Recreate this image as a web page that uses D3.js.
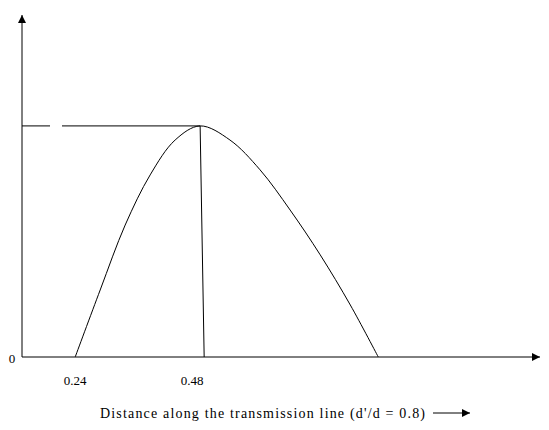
<!DOCTYPE html><html><head><script src="https://d3js.org/d3.v7.min.js"></script>
<style>body{margin:0;background:#fff}</style></head><body><svg id="c" width="549" height="430"></svg>
<script>
const xs=[0.24,0.2865,0.333,0.3795,0.426,0.4725,0.528,0.584,0.640,0.696,0.752,0.804];
const ys=[0,0.29,0.571,0.788,0.939,1,0.939,0.81,0.636,0.442,0.225,0];
const tickVals=[0.24,0.48];
const tickLabels=["0.24","0.48"];
const peak=[0.4725,1], drop=[0.48,0];
const svg=d3.select("#c");
const x=d3.scaleLinear().domain([0.141,1.105]).range([22,540]);
const y=d3.scaleLinear().domain([0,1.48]).range([357,15]);
const f="Liberation Serif";
svg.append("defs").append("marker").attr("id","a").attr("viewBox","0 0 10 10").attr("refX",10).attr("refY",5)
 .attr("markerWidth",10).attr("markerHeight",8).attr("orient","auto").attr("markerUnits","userSpaceOnUse")
 .append("path").attr("d","M0,0L10,5L0,10z").attr("fill","#000");
svg.append("line").attr("x1",x(0.141)).attr("y1",y(0)).attr("x2",x(0.141)).attr("y2",y(1.48)).attr("stroke","#000").attr("marker-end","url(#a)");
svg.append("line").attr("x1",x(0.141)).attr("y1",y(0)).attr("x2",x(1.105)).attr("y2",y(0)).attr("stroke","#000").attr("marker-end","url(#a)");
svg.append("text").attr("x",12).attr("y",y(0)+6).attr("font-family",f).attr("font-size",13).attr("text-anchor","middle").text("0");
tickVals.forEach((v,i)=>svg.append("text").attr("x",x(v)-(i?12:0)).attr("y",385).attr("font-family",f).attr("font-size",13).attr("text-anchor","middle").text(tickLabels[i]));
const pts=xs.map((v,i)=>[v,ys[i]]);
svg.append("path").attr("d",d3.line().x(d=>x(d[0])).y(d=>y(d[1])).curve(d3.curveCatmullRom)(pts)).attr("fill","none").attr("stroke","#000");
svg.append("line").attr("x1",x(peak[0])).attr("y1",y(peak[1])).attr("x2",x(drop[0])).attr("y2",y(drop[1])).attr("stroke","#000");
svg.append("line").attr("x1",x(0.141)).attr("x2",50).attr("y1",y(1)).attr("y2",y(1)).attr("stroke","#000");
svg.append("line").attr("x1",62).attr("x2",x(peak[0])).attr("y1",y(1)).attr("y2",y(1)).attr("stroke","#000");
svg.append("text").attr("x",100).attr("y",418).attr("font-family",f).attr("font-size",14).attr("textLength",325).text("Distance along the transmission  line (d'/d = 0.8)");
svg.append("line").attr("x1",433).attr("x2",470).attr("y1",413).attr("y2",413).attr("stroke","#000").attr("marker-end","url(#a)");
</script></body></html>
